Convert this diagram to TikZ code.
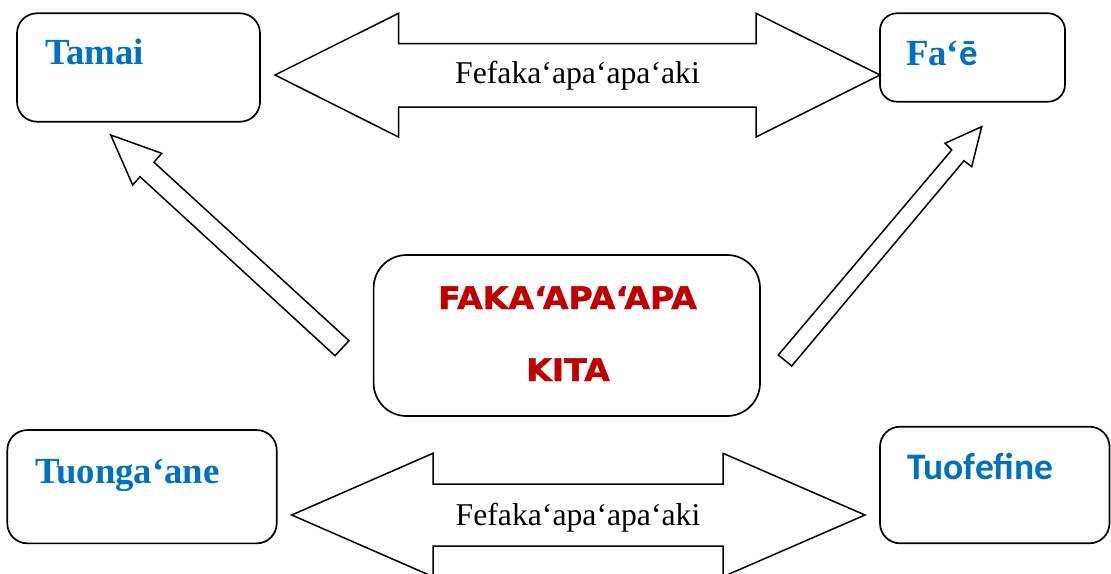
\documentclass[tikz,border=0pt]{standalone}
\usepackage{fontspec}
\newfontfamily\tnr{Liberation Serif}
\newfontfamily\carl{Carlito}
\newfontfamily\dvs{DejaVu Sans}[BoldFeatures={FakeBold=1.2}]
\definecolor{hblue}{HTML}{0070C0}
\definecolor{hred}{HTML}{C00000}
\begin{document}
\begin{tikzpicture}[x=1pt,y=-1pt,
  box/.style={draw=black,line width=1.7pt,rounded corners=#1,inner sep=0pt,outer sep=0pt,fill=white},
  box/.default=20pt,
  blk/.style={draw=black,line width=1.5pt,fill=white,line join=miter},
  lbl/.style={inner sep=0pt,outer sep=0pt,anchor=base west,text=hblue},
  serif/.style={inner sep=0pt,outer sep=0pt,anchor=base,font=\tnr\fontsize{31.7}{34}\selectfont},
  centre/.style={inner sep=0pt,outer sep=0pt,anchor=base,text=hred,font=\dvs\bfseries\fontsize{31}{34}\selectfont}
]
\useasboundingbox (0,0) rectangle (1111,573);
\clip (0,0) rectangle (1111,573);
\fill[white] (0,0) rectangle (1111,573);

% boxes
\node[box, minimum width=243pt, minimum height=108.4pt] (tamai) at (138.5,67.5) {};
\node[box=17pt, minimum width=185pt, minimum height=88.4pt] (fae) at (972.5,57.5) {};
\node[box=33pt, minimum width=386.4pt, minimum height=161pt] (centrebox) at (566.8,335.5) {};
\node[box, minimum width=269.4pt, minimum height=113.3pt] (tuongaane) at (142,486.7) {};
\node[box, minimum width=229.5pt, minimum height=116.6pt] (tuofefine) at (994.75,485) {};

% block arrows
\draw[blk] (275,75) -- (398.5,13.3) -- (398.5,43.5) -- (756,43.5) -- (756,13.3) -- (880,75)
  -- (756,137) -- (756,107) -- (398.5,107) -- (398.5,137) -- cycle;
\draw[blk] (291.7,515) -- (433,453.3) -- (433,484) -- (723,484) -- (723,453.3) -- (865,515)
  -- (723,576.7) -- (723,546) -- (433,546) -- (433,576.7) -- cycle;
\draw[blk] (110.7,135) -- (161.7,153.3) -- (154,162.3) -- (349,340.7) -- (335,355.7)
  -- (140,176.7) -- (132.7,185) -- cycle;
\draw[blk] (981.7,126.7) -- (971.7,166.7) -- (964,160.7) -- (791.7,366) -- (778.3,355)
  -- (951.7,150) -- (945,143.3) -- cycle;

% texts
\node[lbl, font=\tnr\bfseries\fontsize{36.8}{40}\selectfont] (tamaitxt) at (45,64) {Tamai};
\node[lbl, font=\tnr\bfseries\fontsize{36.8}{40}\selectfont] (faetxt) at (906,65) {Fa‘\carl ē};
\node[lbl, font=\tnr\bfseries\fontsize{36.8}{40}\selectfont] (tuongatxt) at (35,483) {Tuonga‘ane};
\node[lbl, font=\carl\bfseries\fontsize{37.5}{40}\selectfont] (tuofetxt) at (907,479) {Tuofefine};
\node[serif] (toplbl) at (577.5,83.3) {Fefaka‘apa‘apa‘aki};
\node[serif] (botlbl) at (578,525) {Fefaka‘apa‘apa‘aki};
\node[centre] (c1) at (567.5,309) {\scalebox{1.07}[1]{FAKA‘APA‘APA}};
\node[centre] (c2) at (568,381) {\scalebox{1.07}[1]{KITA}};
\end{tikzpicture}
\end{document}
